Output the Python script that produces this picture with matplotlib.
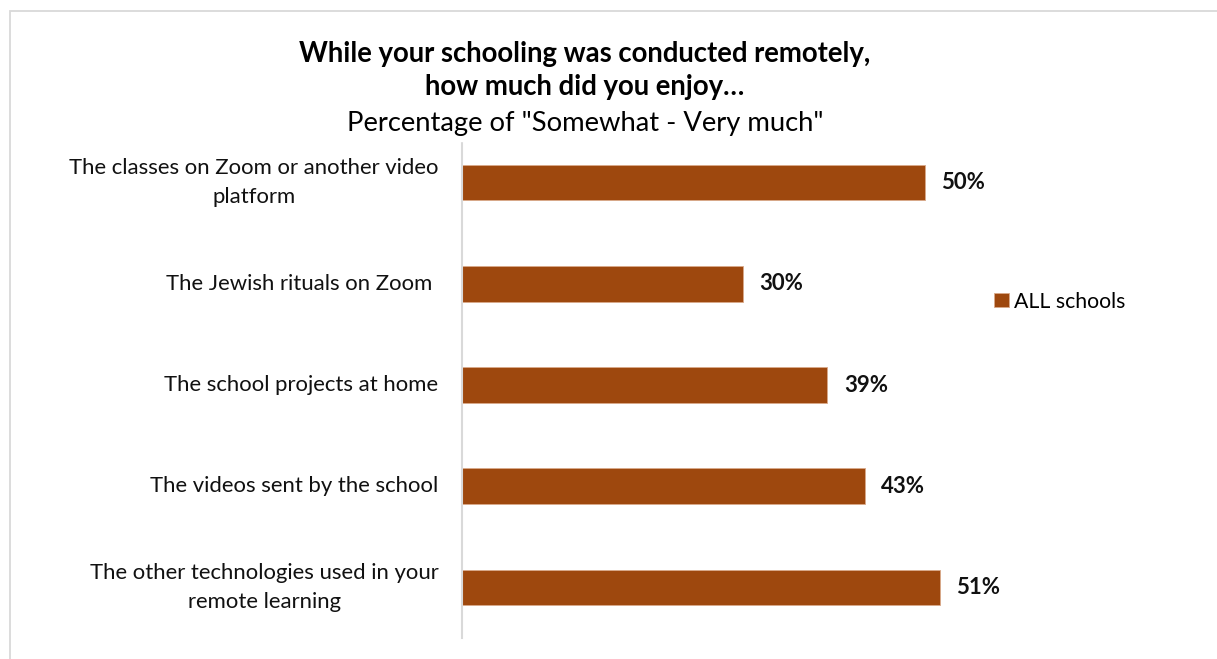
import matplotlib
matplotlib.use("Agg")
import matplotlib.pyplot as plt
from matplotlib.patches import Rectangle

categories = [
    "The classes on Zoom or another video\nplatform",
    "The Jewish rituals on Zoom ",
    "The school projects at home",
    "The videos sent by the school",
    "The other technologies used in your\nremote learning",
]
values = [0.494, 0.30, 0.39, 0.43, 0.51]
value_labels = ["50%", "30%", "39%", "43%", "51%"]
series_name = "ALL schools"
title_line1 = "While your schooling was conducted remotely,\nhow much did you enjoy…"
subtitle = 'Percentage of "Somewhat - Very much"'

plt.rcParams['font.family'] = ['Lato', 'DejaVu Sans']
W, H = 1217, 659
fig = plt.figure(figsize=(W / 100, H / 100), dpi=100)
fig.patch.set_facecolor("white")

# outer chart border
fig.add_artist(Rectangle((10 / W, -0.1), 1.2, 1 - 11 / H + 0.1, transform=fig.transFigure,
                         fill=False, edgecolor="#D9D9D9", linewidth=1.3))

ax = fig.add_axes([462 / W, 21 / H, 562 / W, 506 / H])
color = "#9E480E"
ypos = list(range(len(categories)))
bars = ax.barh(ypos, values, height=0.35, color=color, edgecolor="#D9A98A", linewidth=0.6,
               label=series_name)
ax.set_xlim(0, 0.6)
ax.set_ylim(len(categories) - 0.5, -0.5)
ax.set_yticks(ypos)
ax.set_yticklabels(categories, fontsize=15.9, color="#111111", ha="right", va="center",
                   multialignment="center", linespacing=1.57)
ax.tick_params(axis="y", length=0, pad=17)
ax.set_xticks([])
for s in ["top", "right", "bottom"]:
    ax.spines[s].set_visible(False)
ax.spines["left"].set_color("#D9D9D9")
ax.spines["left"].set_linewidth(1.5)

for y, v, lab in zip(ypos, values, value_labels):
    ax.annotate(lab, (v, y), xytext=(12, 0), textcoords="offset points",
                va="center", ha="left", fontsize=16, fontweight="bold", color="#111111")

fig.text(585 / W, 1 - 70.5 / H, title_line1, ha="center", va="center", fontsize=19.8,
         fontweight="bold", color="black", linespacing=1.35)
fig.text(585 / W, 1 - 123 / H, subtitle, ha="center", va="center", fontsize=19.7,
         color="black", backgroundcolor="white")

leg = fig.legend(handles=[bars], labels=[series_name], loc="center left",
                 bbox_to_anchor=(975 / W, 1 - 301.5 / H), frameon=False, fontsize=15.3,
                 handlelength=0.68, handleheight=0.68, handletextpad=0.25)

fig.savefig("out.png", dpi=100, facecolor="white")
